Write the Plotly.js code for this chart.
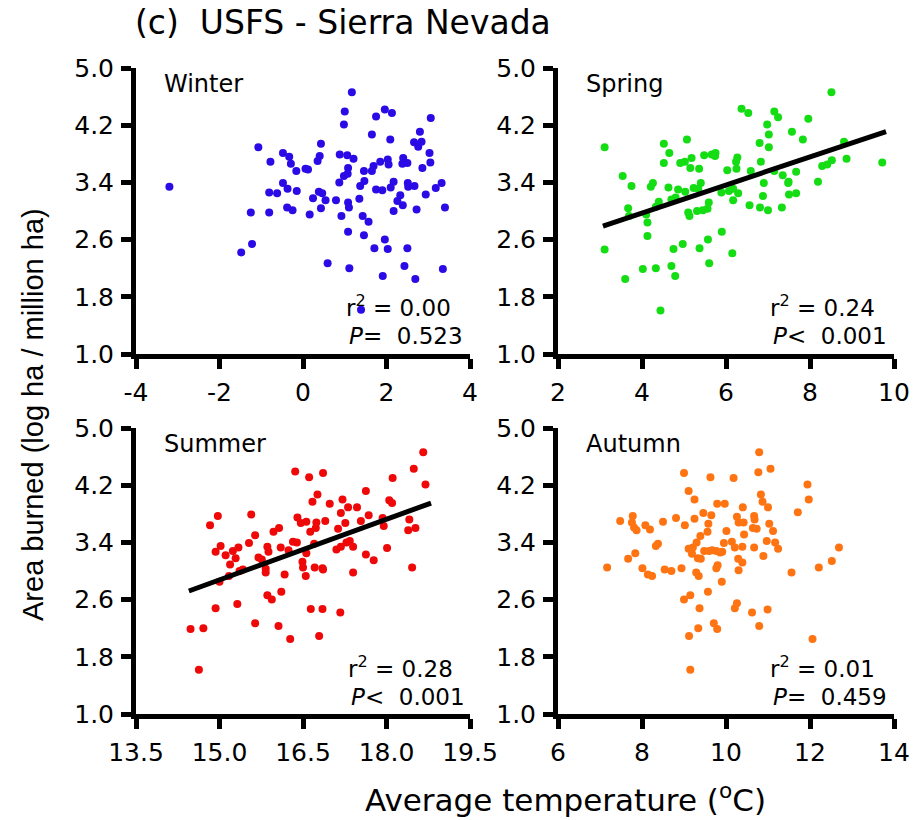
<!DOCTYPE html>
<html>
<head>
<meta charset="utf-8">
<script src="https://cdn.plot.ly/plotly-3.0.1.min.js"></script>
<style>html,body{margin:0;padding:0;background:#fff}#chart{width:919px;height:820px}</style>
</head>
<body>
<div id="chart"></div>
<script>
// ---- Data ----
const winterX = [-3.20,-1.07,-0.78,-1.25,-0.81,-1.22,-1.48,-0.81,-0.62,-0.48,-0.48,-0.33,-0.29,-0.16,-0.37,-0.15,-0.38,-0.25,0.06,0.12,0.43,0.40,0.35,0.24,0.38,0.46,0.54,0.43,0.16,0.59,1.00,0.98,1.17,0.88,1.06,1.21,1.08,1.07,0.98,0.87,0.79,1.08,1.10,0.92,1.08,1.11,1.39,1.46,1.47,1.37,1.35,1.43,1.57,1.46,1.71,1.65,1.75,1.96,2.13,2.09,1.69,1.65,1.85,2.03,2.05,1.75,1.90,2.10,2.17,1.96,2.03,1.91,2.40,2.38,2.50,2.33,2.26,2.39,2.17,2.51,2.52,2.67,2.72,2.50,2.43,2.69,2.80,2.66,2.84,2.76,3.03,3.05,2.86,3.06,2.94,3.18,3.32,3.40,3.35];
const winterY = [3.34,3.89,3.69,2.98,2.98,2.54,2.42,3.26,3.25,3.39,3.81,3.76,3.66,3.56,3.31,3.28,3.05,3.01,3.59,3.58,3.94,3.77,3.70,3.18,3.27,3.25,3.15,3.04,2.95,2.27,4.39,4.21,4.66,3.79,3.78,3.73,3.60,3.52,3.49,3.40,3.15,3.12,3.05,2.93,2.71,2.20,1.62,3.56,3.42,3.35,3.17,2.93,2.85,2.66,2.48,4.07,4.32,4.42,4.37,4.00,3.63,3.56,3.69,3.72,3.65,3.30,3.29,3.33,3.41,2.60,2.47,2.09,3.74,3.66,3.67,3.22,3.14,3.08,3.00,3.39,3.34,3.35,3.02,2.48,2.23,2.05,4.11,3.96,3.97,3.90,3.81,3.68,3.60,4.30,3.23,3.32,3.39,3.05,2.19];

const springX = [3.11,3.11,3.54,3.75,3.67,3.69,3.60,4.02,4.13,4.13,4.10,4.33,4.44,4.52,4.65,4.52,4.21,4.26,4.40,4.33,4.63,4.70,4.80,4.86,5.03,4.75,4.70,4.79,4.97,5.07,4.91,5.02,5.18,5.15,5.36,5.23,5.40,5.34,5.10,5.13,5.31,5.45,5.56,5.59,5.37,5.57,5.60,5.48,5.66,5.75,5.74,5.89,5.90,6.03,6.07,6.17,6.17,6.27,6.24,6.25,6.29,6.15,6.37,6.53,6.59,6.56,6.80,6.83,6.90,6.88,6.81,7.00,6.98,7.02,7.02,7.15,7.24,7.15,7.35,7.49,7.48,7.33,7.50,7.67,7.67,7.57,7.83,7.96,8.19,8.29,8.41,8.52,8.51,8.81,8.87,9.72];
const springY = [3.89,2.46,3.49,3.35,3.04,2.93,2.05,2.19,2.84,2.65,2.95,2.20,1.61,3.94,3.81,3.67,3.34,3.39,3.13,3.06,3.33,3.16,3.19,3.30,3.27,2.47,2.23,2.09,2.54,4.00,3.67,3.69,3.74,3.60,3.59,3.32,3.39,3.31,2.98,2.93,3.00,3.01,3.03,3.12,2.48,2.60,2.27,3.78,3.79,3.81,3.77,3.26,2.71,3.57,3.28,3.31,3.15,3.75,3.69,3.59,3.25,2.41,4.43,4.37,3.56,3.08,3.95,3.69,3.39,3.21,3.05,3.01,4.21,4.07,3.89,4.39,4.31,3.56,3.50,3.41,3.39,3.05,3.23,3.25,3.55,4.11,4.00,4.29,3.41,3.63,3.65,3.71,4.66,3.97,3.73,3.68];
const springFitX = [3.07, 9.81];
const springFitY = [2.79, 4.11];

const summerX = [14.48,14.71,14.63,14.83,14.97,14.93,15.02,14.93,15.00,15.11,15.19,15.24,15.29,15.34,15.36,15.42,15.17,15.32,15.57,15.64,15.53,15.64,15.70,15.76,15.86,15.88,15.83,15.83,15.86,15.94,15.97,16.07,16.10,16.17,16.11,16.06,16.27,16.24,16.32,16.39,16.36,16.40,16.46,16.56,16.56,16.49,16.50,16.55,16.61,16.67,16.76,16.63,16.73,16.74,16.70,16.71,16.85,16.86,16.64,16.85,16.79,16.86,16.90,16.98,17.10,17.13,17.18,17.21,17.26,17.18,17.28,17.34,17.40,17.31,17.17,17.40,17.47,17.54,17.63,17.68,17.63,17.77,17.93,17.95,18.01,18.05,18.10,18.11,18.41,18.39,18.52,18.46,18.49,18.66,18.70];
const summerY = [2.19,2.20,1.62,3.64,3.77,3.27,3.35,2.48,2.85,3.22,3.09,3.28,3.18,3.33,3.00,3.02,2.93,2.54,3.79,3.50,3.39,2.27,3.19,3.16,3.34,3.27,3.03,2.98,2.66,2.60,3.55,3.60,3.33,2.95,2.71,2.23,2.05,3.29,3.41,3.40,4.39,3.75,3.67,3.69,3.25,3.13,3.05,2.93,4.31,3.97,4.07,3.55,3.60,3.68,3.38,3.05,3.04,3.02,2.47,2.47,2.09,4.37,3.70,3.94,3.30,3.59,3.81,4.00,3.67,3.34,3.40,3.42,3.34,3.89,2.42,2.98,3.89,3.70,4.12,3.78,3.23,3.15,3.74,3.63,3.32,3.99,3.95,4.30,3.72,3.57,3.60,3.05,4.43,4.66,4.21];
const summerFitX = [14.45, 18.80];
const summerFitY = [2.72, 3.95];

const autumnX = [7.17,7.48,7.78,7.76,7.81,7.87,7.67,7.84,8.01,8.14,8.24,8.08,8.19,8.33,8.38,8.50,8.54,8.70,8.81,8.94,9.00,9.11,9.25,9.02,9.25,9.11,9.19,9.21,9.30,9.39,9.46,9.56,9.58,9.65,9.33,9.40,9.48,9.60,9.67,9.77,9.86,9.91,9.29,9.35,9.80,9.77,9.90,9.63,9.57,9.15,9.00,9.37,9.34,9.12,9.15,9.71,9.79,9.79,9.97,10.01,9.95,10.14,10.21,10.18,10.26,10.30,10.42,10.40,10.43,10.39,10.29,10.39,10.30,10.26,10.21,10.62,10.79,10.67,10.68,10.64,10.73,10.67,10.89,10.97,11.17,11.24,11.03,11.12,10.83,10.87,11.00,10.79,10.77,11.06,10.99,11.56,11.71,11.94,11.97,12.06,12.21,12.52,12.69];
const autumnY = [3.05,3.70,3.77,3.68,3.61,3.57,3.17,3.25,3.04,2.95,2.93,3.64,3.58,3.35,3.38,3.69,3.02,3.00,3.74,3.04,4.37,4.12,4.00,3.64,3.73,3.31,3.24,3.33,3.40,3.49,3.81,3.55,3.66,3.78,3.18,3.17,3.28,3.28,3.29,3.28,3.26,3.27,2.98,2.93,3.08,3.04,2.85,4.31,2.71,2.66,2.60,2.48,2.20,2.09,1.62,2.27,2.19,3.94,3.94,3.56,3.39,3.41,3.33,4.30,3.76,3.68,3.68,3.89,3.51,3.34,3.17,3.12,3.01,2.55,2.48,2.42,2.23,3.77,3.72,3.60,3.59,3.33,3.21,3.42,3.40,3.31,3.66,3.56,4.07,3.97,3.89,4.66,4.38,4.43,2.46,2.98,3.82,4.21,4.00,2.05,3.05,3.14,3.33];

const yTicks = [1.0, 1.8, 2.6, 3.4, 4.2, 5.0];
const winterTicks = [-4, -2, 0, 2, 4];
const springTicks = [2, 4, 6, 8, 10];
const summerTicks = [13.5, 15.0, 16.5, 18.0, 19.5];
const autumnTicks = [6, 8, 10, 12, 14];

const seasonNames = ['Winter', 'Spring', 'Summer', 'Autumn'];
const r2Texts = ['0.00', '0.24', '0.28', '0.01'];
const pSigns = ['=', '<', '<', '='];
const pTexts = ['0.523', '0.001', '0.001', '0.459'];

// ---- Build ----
const W = 919, H = 820;
const px = v => v / W;
const py = v => 1 - v / H;

const colors = ['#2A0BE6', '#14DD14', '#EE0808', '#FF7412'];
const marker = c => ({color: c, size: 8, line: {width: 0}});

const traces = [
  {x: winterX, y: winterY, xaxis: 'x', yaxis: 'y', mode: 'markers', type: 'scatter', marker: marker(colors[0])},
  {x: springX, y: springY, xaxis: 'x2', yaxis: 'y2', mode: 'markers', type: 'scatter', marker: marker(colors[1])},
  {x: springFitX, y: springFitY, xaxis: 'x2', yaxis: 'y2', mode: 'lines', type: 'scatter', line: {color: '#000', width: 5}},
  {x: summerX, y: summerY, xaxis: 'x3', yaxis: 'y3', mode: 'markers', type: 'scatter', marker: marker(colors[2])},
  {x: summerFitX, y: summerFitY, xaxis: 'x3', yaxis: 'y3', mode: 'lines', type: 'scatter', line: {color: '#000', width: 5}},
  {x: autumnX, y: autumnY, xaxis: 'x4', yaxis: 'y4', mode: 'markers', type: 'scatter', marker: marker(colors[3])}
];

const tickFont = {family: 'DejaVu Sans', size: 25, color: '#000'};
function xax(domain, ticks, fmt, anchor) {
  return {
    domain: domain, anchor: anchor, range: [ticks[0], ticks[ticks.length - 1]],
    tickmode: 'array', tickvals: ticks, ticktext: ticks.map(fmt),
    showline: true, linewidth: 5, linecolor: '#000', ticks: 'outside', ticklen: 10, tickwidth: 5, tickcolor: '#000',
    showgrid: false, zeroline: false, tickfont: tickFont, ticklabelstandoff: 2, fixedrange: true
  };
}
function yax(domain, anchor) {
  return {
    domain: domain, anchor: anchor, range: [1, 5],
    tickmode: 'array', tickvals: yTicks, ticktext: yTicks.map(v => v.toFixed(1)),
    showline: true, linewidth: 5, linecolor: '#000', ticks: 'outside', ticklen: 10, tickwidth: 5, tickcolor: '#000',
    showgrid: false, zeroline: false, tickfont: tickFont, ticklabelstandoff: 2, fixedrange: true
  };
}
const xL = [px(136), px(470)], xR = [px(558), px(894)];
const yT = [py(354), py(68)], yB = [py(714), py(428)];
const intFmt = v => String(v);
const decFmt = v => v.toFixed(1);

const panelPos = [
  {sx: 162, sy: 84, rx: 344, ry: 306},
  {sx: 584, sy: 84, rx: 768, ry: 306},
  {sx: 162, sy: 444, rx: 346, ry: 667},
  {sx: 584, sy: 444, rx: 768, ry: 667}
];
const annFont = {family: 'DejaVu Sans', size: 23, color: '#000'};
const annotations = [];
panelPos.forEach((p, i) => {
  annotations.push({xref: 'paper', yref: 'paper', x: px(p.sx), y: py(p.sy), xanchor: 'left', yanchor: 'middle',
    text: seasonNames[i], showarrow: false, font: {family: 'DejaVu Sans', size: 24, color: '#000'}});
  annotations.push({xref: 'paper', yref: 'paper', x: px(p.rx), y: py(p.ry), xanchor: 'left', yanchor: 'middle',
    text: 'r<sup>2</sup> = ' + r2Texts[i], showarrow: false, font: annFont});
  annotations.push({xref: 'paper', yref: 'paper', x: px(p.rx + 3), y: py(p.ry + 30), xanchor: 'left', yanchor: 'middle',
    text: '<i>P</i>' + (pSigns[i] === '<' ? '&lt;' : '=') + '&nbsp; ' + pTexts[i], showarrow: false, font: annFont});
});
annotations.push({xref: 'paper', yref: 'paper', x: px(133), y: py(22), xanchor: 'left', yanchor: 'middle',
  text: '(c)&nbsp; USFS - Sierra Nevada', showarrow: false, font: {family: 'DejaVu Sans', size: 33, color: '#000'}});
annotations.push({xref: 'paper', yref: 'paper', x: px(565), y: py(798), xanchor: 'center', yanchor: 'middle',
  text: 'Average temperature (<sup>o</sup>C)', showarrow: false, font: {family: 'DejaVu Sans', size: 31, color: '#000'}});
annotations.push({xref: 'paper', yref: 'paper', x: px(33), y: py(415), xanchor: 'center', yanchor: 'middle', textangle: -90,
  text: 'Area burned (log ha / million ha)', showarrow: false, font: {family: 'Liberation Sans', size: 29, color: '#000'}});

const layout = {
  width: W, height: H, margin: {l: 0, r: 0, t: 0, b: 0}, showlegend: false,
  paper_bgcolor: '#fff', plot_bgcolor: '#fff',
  xaxis: xax(xL, winterTicks, intFmt, 'y'),
  yaxis: yax(yT, 'x'),
  xaxis2: xax(xR, springTicks, intFmt, 'y2'),
  yaxis2: yax(yT, 'x2'),
  xaxis3: xax(xL, summerTicks, decFmt, 'y3'),
  yaxis3: yax(yB, 'x3'),
  xaxis4: xax(xR, autumnTicks, intFmt, 'y4'),
  yaxis4: yax(yB, 'x4'),
  annotations: annotations
};
Plotly.newPlot('chart', traces, layout, {displayModeBar: false, staticPlot: true});
</script>
</body>
</html>
